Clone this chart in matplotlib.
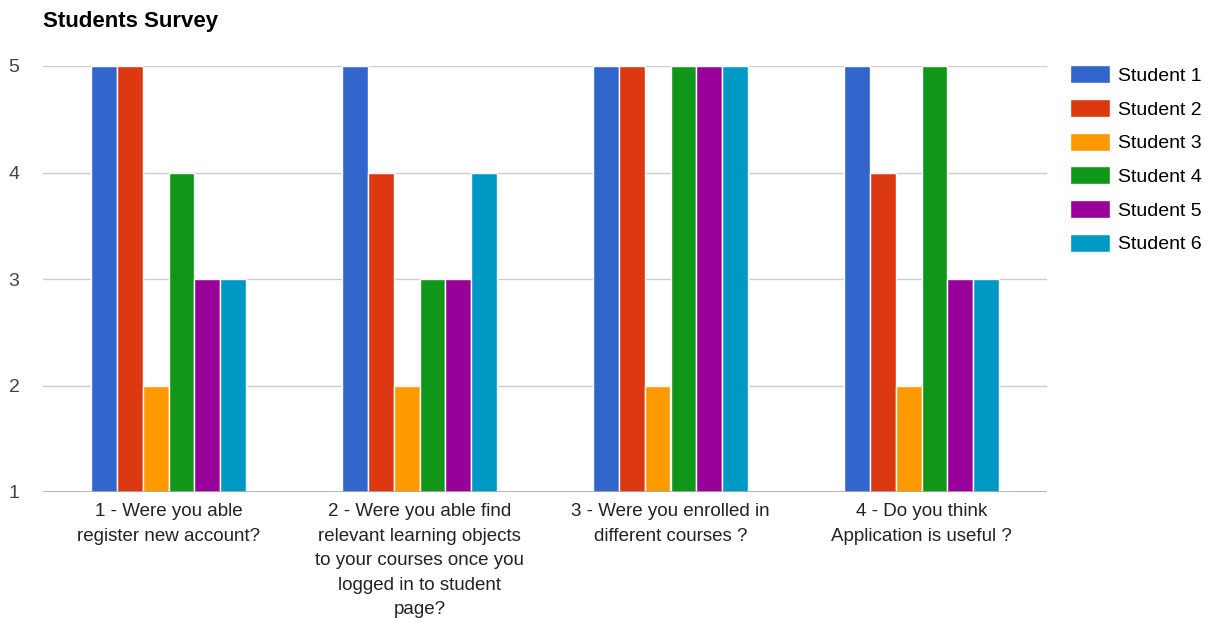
import numpy as np
import matplotlib.pyplot as plt

questions = ["1 - Were you able\nregister new account?",
             "2 - Were you able find\nrelevant learning objects\nto your courses once you\nlogged in to student\npage?",
             "3 - Were you enrolled in\ndifferent courses ?",
             "4 - Do you think\nApplication is useful ?"]
students = ["Student 1", "Student 2", "Student 3", "Student 4", "Student 5", "Student 6"]
s1 = [5, 5, 5, 5]
s2 = [5, 4, 5, 4]
s3 = [2, 2, 2, 2]
s4 = [4, 3, 5, 5]
s5 = [3, 3, 5, 3]
s6 = [3, 4, 5, 3]
series = [s1, s2, s3, s4, s5, s6]
colors = ["#3366cc", "#dc3912", "#ff9900", "#109618", "#990099", "#0099c6"]

plt.rcParams['font.family'] = ['Liberation Sans', 'DejaVu Sans']

fig = plt.figure(figsize=(12.16, 6.23), dpi=100)
ax = fig.add_axes([43/1216, 1-492/623, (1047-43)/1216, (492-66)/623])

x = np.arange(len(questions))
w = 0.103
for i, (vals, c, name) in enumerate(zip(series, colors, students)):
    ax.bar(x + (i-2.5)*w, vals, w, color=c, edgecolor='white', linewidth=1, label=name, zorder=3)

ax.set_xlim(-0.5, 3.5)
ax.set_ylim(1, 5)
ax.set_yticks([1, 2, 3, 4, 5])
ax.grid(axis='y', color='#cccccc', linewidth=1, zorder=0)
for s in ax.spines.values():
    s.set_visible(False)
ax.axhline(1, color='#aaaaaa', linewidth=1.2, zorder=4)
ax.tick_params(axis='both', length=0, labelsize=13.5, colors='#222222')
ax.tick_params(axis='y', pad=17, labelsize=14, labelcolor='#444444')
ax.set_xticks(x)
ax.set_xticklabels(questions, linespacing=1.58)
ax.tick_params(axis='x', pad=8)

ax.legend(loc='upper left', bbox_to_anchor=(1.015, 1.02), frameon=False, fontsize=14,
          handlelength=2.05, handleheight=1.05, handletextpad=0.45, labelspacing=0.72,
          borderaxespad=0)

fig.text(43/1216, 1-21/623, "Students Survey", fontsize=16, fontweight='bold', va='center', ha='left')

fig.savefig('out.png', dpi=100)
